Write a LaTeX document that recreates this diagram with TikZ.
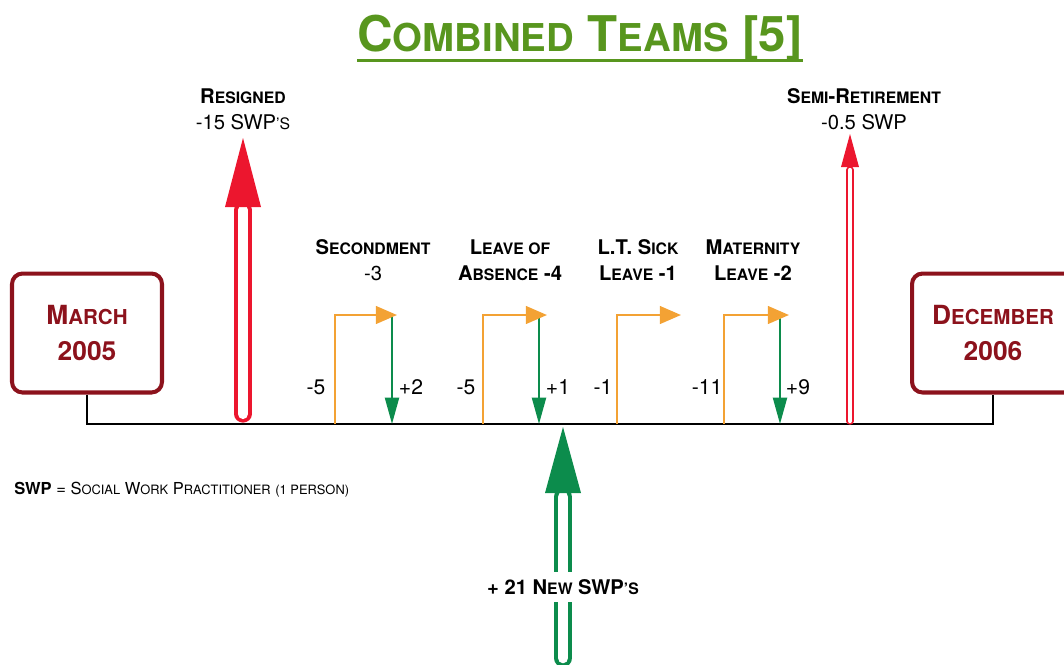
\documentclass[tikz,border=0pt]{standalone}
\usepackage{fontspec}
\setmainfont{TeX Gyre Heros}
\usepackage{scalefnt}
\usetikzlibrary{arrows.meta,positioning,calc}
\definecolor{titlecolor}{RGB}{88,150,30}
\definecolor{datecolor}{RGB}{140,18,28}
\definecolor{losscolor}{RGB}{236,22,46}
\definecolor{gaincolor}{RGB}{12,140,76}
\definecolor{movecolor}{RGB}{243,162,52}
\newcommand{\lc}[1]{{\scalefont{0.78}#1}}

\begin{document}
\begin{tikzpicture}[
    x=0.02cm, y=-0.02cm,
    datebox/.style={rectangle, draw=datecolor, line width=2.3pt, rounded corners=6pt, minimum width=3cm, minimum height=2.38cm, align=center, text=datecolor, font=\fontsize{15}{21}\selectfont\bfseries},
    lbl/.style={align=center, inner sep=1pt, font=\fontsize{11.5}{15}\selectfont},
    num/.style={inner sep=1pt, font=\fontsize{12}{14}\selectfont},
    move/.style={draw=movecolor, line width=1.4pt, -{Triangle[length=12pt, width=10pt]}},
    back/.style={draw=gaincolor, line width=1.1pt, -{Triangle[length=15pt, width=8pt]}},
    timeline/.style={draw=black, line width=1.1pt}
]
\useasboundingbox (0,0) rectangle (1064,664);

% title
\node[inner sep=0pt, text=titlecolor, font=\fontsize{28}{30}\selectfont\bfseries] (title) at (580,38) {C\lc{OMBINED} T\lc{EAMS} [5]};
\draw[titlecolor, line width=1.6pt] ($(title.base west)+(0,9)$) -- ($(title.base east)+(0,9)$);

% dates and timeline
\node[datebox] (start) at (87,333) {M\lc{ARCH}\\2005};
\node[datebox, minimum width=3.24cm] (end) at (993,333) {D\lc{ECEMBER}\\2006};
\coordinate (tl) at (88,424);
\draw[timeline] (start.south) -- (start.south |- tl) -- (end.south |- tl) -- (end.south);

% secondment
\coordinate (sec-out) at (335,424);
\coordinate (sec-tip) at (397,315);
\coordinate (sec-back) at (392,315);
\draw[back] (sec-back) -- (sec-back |- tl);
\draw[move] (sec-out) |- (sec-tip);
\node[lbl] (sec) at (373,260) {\textbf{S\lc{ECONDMENT}}\\-3};
\node[num] (sec-n1) at (316,387) {-5};
\node[num] (sec-n2) at (411,387) {+2};

% leave of absence
\coordinate (loa-out) at (483,424);
\coordinate (loa-tip) at (547,315);
\coordinate (loa-back) at (539,315);
\draw[back] (loa-back) -- (loa-back |- tl);
\draw[move] (loa-out) |- (loa-tip);
\node[lbl] (loa) at (510,260) {\textbf{L\lc{EAVE OF}}\\\textbf{A\lc{BSENCE} -4}};
\node[num] (loa-n1) at (466,387) {-5};
\node[num] (loa-n2) at (558,387) {+1};

% long term sick
\coordinate (lts-out) at (617,424);
\coordinate (lts-tip) at (681,315);
\draw[move] (lts-out) |- (lts-tip);
\node[lbl] (lts) at (638,260) {\textbf{L.T. S\lc{ICK}}\\\textbf{L\lc{EAVE} -1}};
\node[num] (lts-n1) at (603,387) {-1};

% maternity
\coordinate (mat-out) at (724,424);
\coordinate (mat-tip) at (789,315);
\coordinate (mat-back) at (780,315);
\draw[back] (mat-back) -- (mat-back |- tl);
\draw[move] (mat-out) |- (mat-tip);
\node[lbl] (mat) at (753,260) {\textbf{M\lc{ATERNITY}}\\\textbf{L\lc{EAVE} -2}};
\node[num] (mat-n1) at (707,387) {-11};
\node[num] (mat-n2) at (798,387) {+9};

% resigned
\coordinate (res-foot) at (243,414);
\coordinate (res-tip) at (243,138);
\draw[losscolor, line width=2pt, double=white, double distance=5.8pt, line cap=round] (res-foot) -- ($(res-tip)+(0,72)$);
\fill[losscolor] (res-tip) -- ++(-18,69) -- ++(36,0) -- cycle;
\node[lbl] (res) at (243,109) {\textbf{R\lc{ESIGNED}}\\-15 SWP\lc{'S}};

% semi-retirement
\coordinate (semi-foot) at (850,421);
\coordinate (semi-tip) at (850,134);
\draw[losscolor, line width=0.9pt, double=white, double distance=2.4pt, line cap=round] (semi-foot) -- ($(semi-tip)+(0,36)$);
\fill[losscolor] (semi-tip) -- ++(-9,33) -- ++(18,0) -- cycle;
\node[lbl] (semi) at (864,109) {\textbf{S\lc{EMI}-R\lc{ETIREMENT}}\\-0.5 SWP};

% new staff
\coordinate (new-foot) at (563,658);
\coordinate (new-tip) at (563,427);
\draw[gaincolor, line width=2.2pt, double=white, double distance=6pt, line cap=round] (new-foot) -- ($(new-tip)+(0,70)$);
\fill[gaincolor] (new-tip) -- ++(-18,66) -- ++(36,0) -- cycle;
\node[lbl, fill=white, inner sep=4pt] (new) at (563,587) {\textbf{+ 21 N\lc{EW} SWP\lc{'S}}};

% key
\node[anchor=west, inner sep=0pt, font=\fontsize{9.4}{11}\selectfont] (key) at (14,490) {\textbf{SWP} = S\lc{OCIAL} W\lc{ORK} P\lc{RACTITIONER} \lc{(1 PERSON)}};

\end{tikzpicture}
\end{document}
